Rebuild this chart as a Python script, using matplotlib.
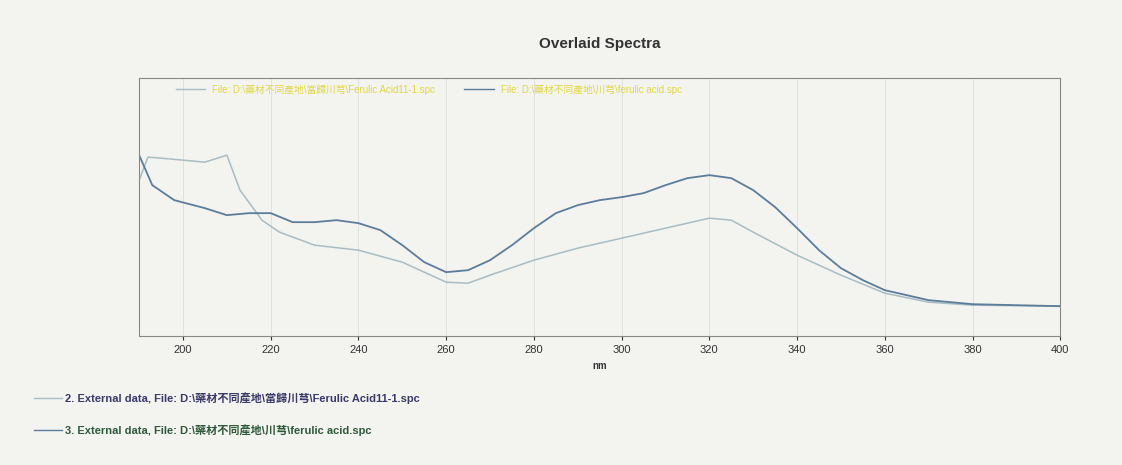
import matplotlib
matplotlib.use('Agg')
import matplotlib.pyplot as plt
from matplotlib.lines import Line2D

plt.rcParams['font.family'] = ['Liberation Sans', 'Noto Sans CJK TC', 'DejaVu Sans']

# Ferulic acid (川芎) spectrum, absorbance in arbitrary units
nm_b = [190, 193, 198, 205, 210, 215, 220, 225, 230, 235, 240, 245, 250, 255, 260, 265,
        270, 275, 280, 285, 290, 295, 300, 305, 310, 315, 320, 325, 330, 335, 340, 345,
        350, 355, 360, 370, 380, 390, 400]
abs_b = [1.81, 1.51, 1.36, 1.28, 1.21, 1.23, 1.23, 1.14, 1.14, 1.16, 1.13, 1.06, 0.91,
         0.74, 0.64, 0.66, 0.76, 0.91, 1.08, 1.23, 1.31, 1.36, 1.39, 1.43, 1.51, 1.58,
         1.61, 1.58, 1.46, 1.29, 1.08, 0.86, 0.68, 0.56, 0.46, 0.36, 0.32, 0.31, 0.30]

# Ferulic Acid11-1 (當歸川芎) spectrum
nm_a = [190, 192, 195, 200, 205, 210, 213, 218, 222, 230, 240, 250, 255, 260, 265, 270,
        280, 290, 300, 310, 320, 325, 330, 340, 350, 360, 370, 380, 400]
abs_a = [1.56, 1.79, 1.78, 1.76, 1.74, 1.81, 1.46, 1.16, 1.04, 0.91, 0.86, 0.74, 0.64,
         0.54, 0.53, 0.61, 0.76, 0.88, 0.98, 1.08, 1.18, 1.16, 1.04, 0.81, 0.61, 0.43,
         0.34, 0.31, 0.30]

file_a = 'D:\\藥材不同產地\\當歸川芎\\Ferulic Acid11-1.spc'
file_b = 'D:\\藥材不同產地\\川芎\\ferulic acid.spc'

bg = '#f3f3ef'
col_a = '#a9bcc4'
col_b = '#5b7d9a'

fig = plt.figure(figsize=(11.22, 4.65), dpi=100, facecolor=bg)
ax = fig.add_axes([0.124, 0.277, 0.821, 0.555], facecolor=bg)
ax.plot(nm_a, abs_a, color=col_a, lw=1.1)
ax.plot(nm_b, abs_b, color=col_b, lw=1.3)
ax.set_xlim(190, 400)
ax.set_ylim(0.0, 2.58)
ax.set_xticks(range(200, 401, 20))
ax.set_yticks([])
ax.tick_params(axis='x', labelsize=8, colors='#333333', length=3)
ax.grid(axis='x', color='#dddddd', lw=0.6)
for s in ax.spines.values():
    s.set_color('#888888')
    s.set_linewidth(0.8)
ax.set_xlabel('nm', fontsize=7, fontweight='bold', color='#333333')
ax.set_title('Overlaid Spectra', fontsize=11, fontweight='bold', color='#333333', pad=22)

handles = [Line2D([], [], color=col_a, lw=1), Line2D([], [], color=col_b, lw=1)]
ax.legend(handles, ['File: ' + file_a, 'File: ' + file_b], loc='upper left',
          bbox_to_anchor=(0.03, 1.01), ncol=2, frameon=False, fontsize=7,
          labelcolor='#e0d840', handlelength=3, columnspacing=3)

fig.add_artist(Line2D([0.03, 0.055], [0.145, 0.145], color=col_a, lw=1))
fig.text(0.058, 0.145, '2. External data, File: ' + file_a, fontsize=8, fontweight='bold',
         color='#3a3a6a', va='center')
fig.add_artist(Line2D([0.03, 0.055], [0.075, 0.075], color=col_b, lw=1))
fig.text(0.058, 0.075, '3. External data, File: ' + file_b, fontsize=8, fontweight='bold',
         color='#2f5a3a', va='center')

fig.savefig('out.png', dpi=100, facecolor=bg)
